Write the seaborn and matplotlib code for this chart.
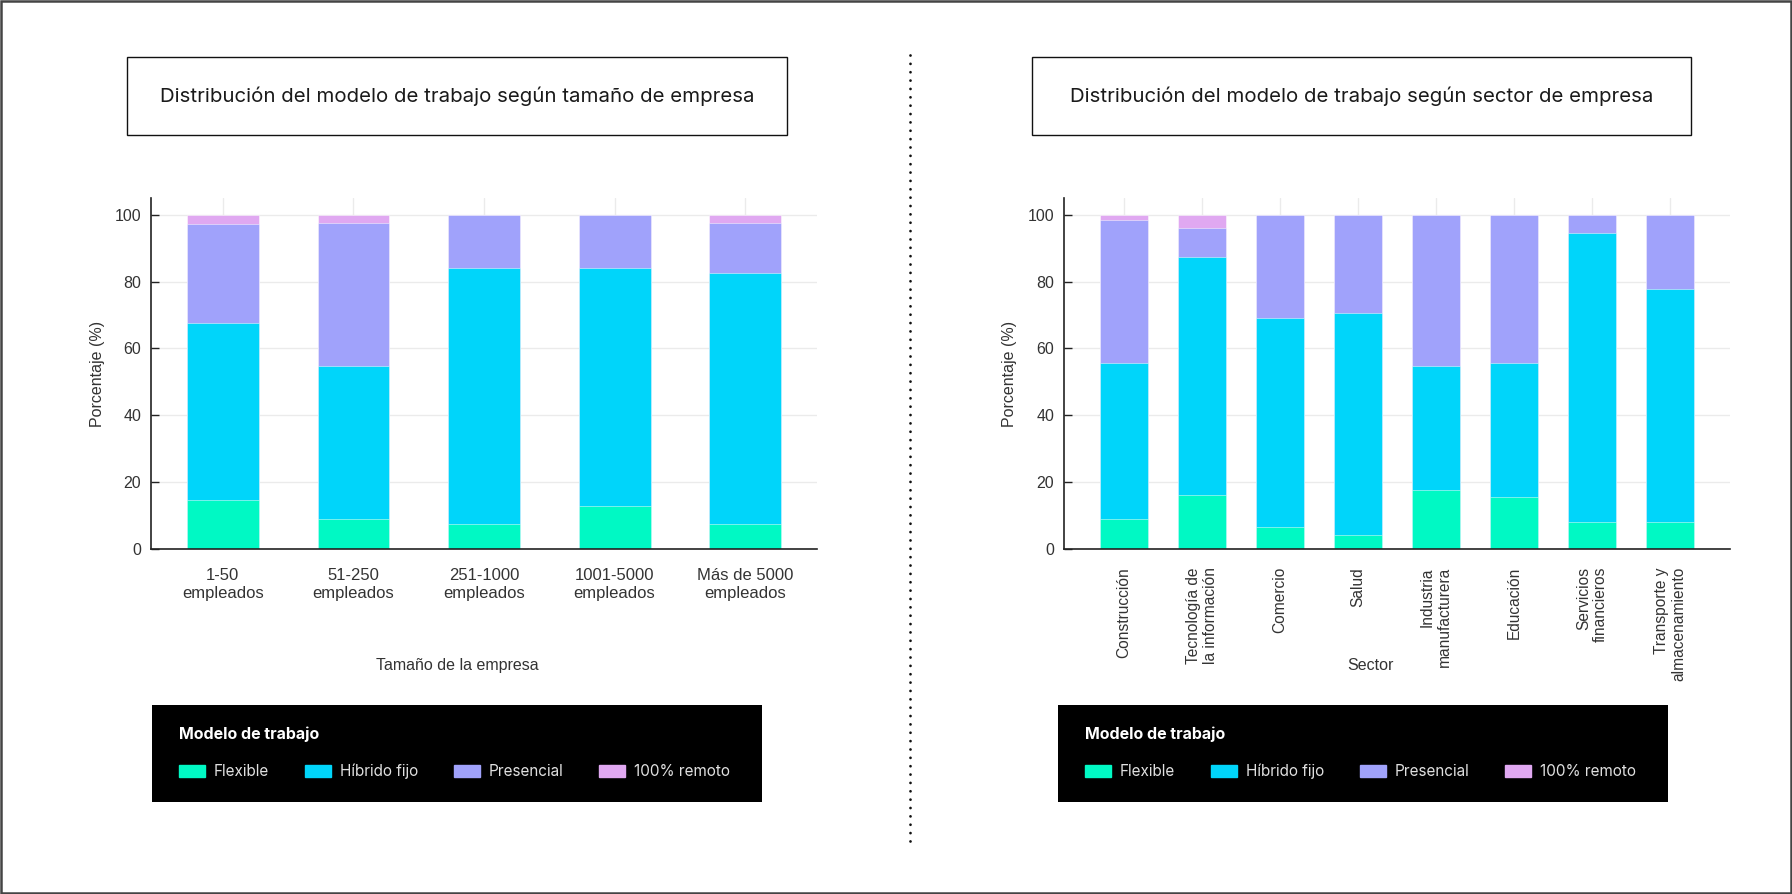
import matplotlib
matplotlib.use("Agg")
import matplotlib.pyplot as plt
import seaborn as sns
import numpy as np
from matplotlib.patches import Rectangle, Patch
from matplotlib.lines import Line2D

# ---- data -------------------------------------------------------------
models = ["Flexible", "Híbrido fijo", "Presencial", "100% remoto"]
model_colors = ["#00F9C4", "#00D5FA", "#A0A2FB", "#E0A8F1"]

sizes = ["1-50\nempleados", "51-250\nempleados", "251-1000\nempleados",
         "1001-5000\nempleados", "Más de 5000\nempleados"]
size_flexible = [14.8, 9.0, 7.5, 13.0, 7.5]
size_hibrido = [52.7, 45.8, 76.7, 71.2, 75.2]
size_presencial = [29.6, 42.8, 15.8, 15.8, 14.9]
size_remoto = [2.9, 2.4, 0.0, 0.0, 2.4]

sectors = ["Construcción", "Tecnología de\nla información", "Comercio", "Salud",
           "Industria\nmanufacturera", "Educación", "Servicios\nfinancieros",
           "Transporte y\nalmacenamiento"]
sector_flexible = [9.0, 16.3, 6.6, 4.3, 17.7, 15.5, 8.2, 8.2]
sector_hibrido = [46.5, 71.1, 62.6, 66.4, 37.1, 40.0, 86.4, 69.7]
sector_presencial = [43.0, 8.7, 30.8, 29.3, 45.2, 44.5, 5.4, 22.1]
sector_remoto = [1.5, 3.9, 0.0, 0.0, 0.0, 0.0, 0.0, 0.0]

y_ticks = [0, 20, 40, 60, 80, 100]

titles = ["Distribución del modelo de trabajo según tamaño de empresa",
          "Distribución del modelo de trabajo según sector de empresa"]
x_labels = ["Tamaño de la empresa", "Sector"]
y_label = "Porcentaje (%)"
legend_title = "Modelo de trabajo"

# ---- style ------------------------------------------------------------
sns.set_theme(style="white")
plt.rcParams["font.family"] = ["Liberation Sans", "DejaVu Sans"]
TITLE_FONT = ["Inter", "DejaVu Sans"]

W, H = 1792, 894
fig = plt.figure(figsize=(W / 100, H / 100), dpi=100)
fig.patch.set_facecolor("white")


def fx(px):
    return px / W


def fy(py):
    return 1 - py / H


def stacked(ax, cats, layers, width):
    totals = np.cumsum(np.array(layers), axis=0)
    # draw the tallest cumulative layer first so lower layers sit on top
    for i in range(len(layers) - 1, -1, -1):
        sns.barplot(x=cats, y=totals[i], order=cats, color=model_colors[i],
                    width=width, errorbar=None, ax=ax, saturation=1,
                    edgecolor=(1, 1, 1, 0.55), linewidth=0.6, zorder=2)


def style_axes(ax, n, pad_units, xlabel, ylabel_x, rot):
    ax.set_xlim(-pad_units, n - 1 + pad_units)
    ax.set_ylim(0, 105)
    ax.set_yticks(y_ticks)
    ax.set_axisbelow(True)
    ax.grid(True, axis="both", color="#ebebeb", linewidth=1.0)
    for s in ("top", "right"):
        ax.spines[s].set_visible(False)
    for s in ("left", "bottom"):
        ax.spines[s].set_color("#222222")
        ax.spines[s].set_linewidth(1.2)
    ax.tick_params(axis="x", direction="in", length=5, width=1, color="#222222",
                   pad=13 if rot else 14, labelsize=12, labelcolor="#333333")
    ax.tick_params(axis="y", direction="in", length=6, width=1, color="#222222",
                   pad=7, labelsize=11.5, labelcolor="#333333", left=True)
    ax.set_xlabel(xlabel, fontsize=11.5, color="#333333")
    ax.set_ylabel(y_label, fontsize=11.5, color="#333333")
    ax.xaxis.set_label_coords(0.46, -0.31)
    ax.yaxis.set_label_coords(ylabel_x, 0.5)
    if rot:
        for lab in ax.get_xticklabels():
            lab.set_rotation(90)
            lab.set_ha("center")
            lab.set_va("top")
            lab.set_multialignment("right")
            lab.set_fontsize(11.2)
    else:
        for lab in ax.get_xticklabels():
            lab.set_multialignment("center")


# ---- left panel: company size -----------------------------------------
ax1 = fig.add_axes([fx(151), fy(549), fx(666), 351 / H])
stacked(ax1, sizes, [size_flexible, size_hibrido, size_presencial, size_remoto], 0.55)
style_axes(ax1, len(sizes), 0.55, x_labels[0], -0.069, False)

# ---- right panel: sector ----------------------------------------------
ax2 = fig.add_axes([fx(1064), fy(549), fx(666), 351 / H])
stacked(ax2, sectors, [sector_flexible, sector_hibrido, sector_presencial, sector_remoto], 0.62)
style_axes(ax2, len(sectors), 0.77, x_labels[1], -0.071, True)

# ---- title boxes --------------------------------------------------------
for (x0, x1), title in zip([(127, 787), (1032, 1691)], titles):
    fig.patches.append(Rectangle((fx(x0), fy(135)), fx(x1 - x0), (135 - 57) / H,
                                 transform=fig.transFigure, facecolor="white",
                                 edgecolor="#111111", linewidth=1.0))
    fig.text(fx((x0 + x1) / 2), fy(96), title, ha="center", va="center",
             fontsize=14.7, color="#1a1a1a", family=TITLE_FONT)

# ---- legends -----------------------------------------------------------
handles = [Patch(facecolor=c, edgecolor=c, label=m) for m, c in zip(models, model_colors)]
for x0 in (152, 1058):
    fig.patches.append(Rectangle((fx(x0), fy(802)), fx(610), (802 - 705) / H,
                                 transform=fig.transFigure, facecolor="black",
                                 edgecolor="black", linewidth=0))
    leg = fig.legend(handles=handles, ncol=4, loc="upper left",
                     bbox_to_anchor=(fx(x0 + 27), fy(727)), frameon=False,
                     title=legend_title, handlelength=1.7, handleheight=0.85,
                     handletextpad=0.57, columnspacing=2.35, labelspacing=1.4,
                     borderpad=0, borderaxespad=0,
                     prop={"family": TITLE_FONT, "size": 11},
                     title_fontproperties={"family": TITLE_FONT, "size": 11.5,
                                           "weight": "bold"})
    leg._legend_box.align = "left"
    leg.get_title().set_color("white")
    for t in leg.get_texts():
        t.set_color("#e0e0e0")

# ---- dotted divider and outer frame ------------------------------------
fig.add_artist(Line2D([fx(910), fx(910)], [fy(55), fy(841)], transform=fig.transFigure,
                      color="#111111", linewidth=2, linestyle=(0, (0.01, 3)),
                      dash_capstyle="round"))
fig.patches.append(Rectangle((0.0008, 0.0015), 0.9984, 0.997, transform=fig.transFigure,
                             facecolor="none", edgecolor="#444444", linewidth=1.8))

fig.savefig("out.png", dpi=100, facecolor="white")
